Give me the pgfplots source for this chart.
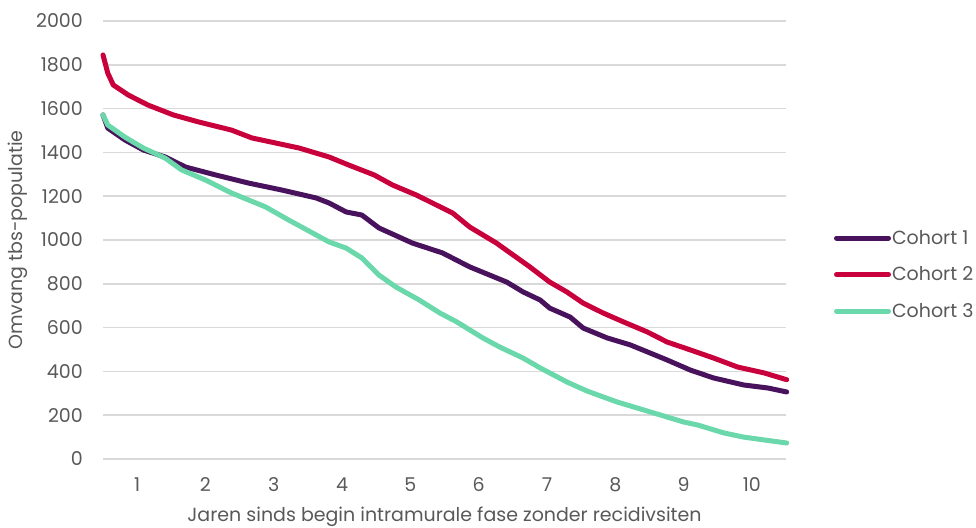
\documentclass[border=0pt]{standalone}
\usepackage{fontspec}
\setmainfont{Poppins}
\usepackage{pgfplots}
\pgfplotsset{compat=1.18}

\definecolor{cohortA}{RGB}{72,18,92}
\definecolor{cohortB}{RGB}{200,0,60}
\definecolor{cohortC}{RGB}{106,216,170}
\definecolor{gridgray}{RGB}{217,217,217}
\definecolor{textgray}{RGB}{89,89,89}

\begin{document}
\begin{tikzpicture}
\useasboundingbox (0,0) rectangle (976pt,527pt);
\begin{axis}[
  at={(103pt,68pt)}, anchor=south west,
  scale only axis, width=683pt, height=438pt,
  xmin=0.5, xmax=10.5, ymin=0, ymax=2000,
  xtick={1,...,10},
  ytick={0,200,...,2000},
  axis line style={draw=none},
  major tick style={draw=none},
  ymajorgrids,
  major grid style={line width=1.5pt, color=gridgray},
  clip=false,
  font=\fontsize{19}{23}\selectfont,
  /pgf/number format/assume math mode=true,
  /pgf/number format/1000 sep={},
  tick label style={text=textgray},
  yticklabel style={anchor=east, inner sep=0pt, xshift=-20pt},
  xticklabel style={anchor=center, inner sep=0pt, yshift=-26pt},
  xlabel={Jaren sinds begin intramurale fase zonder recidivsiten},
  ylabel={Omvang tbs-populatie},
  label style={text=textgray},
  xlabel style={at={(axis description cs:0.5,-0.1324)}, anchor=center},
  ylabel style={at={(axis description cs:-0.1245,0.5)}, anchor=center, rotate=0},
  legend style={at={(1.07,0.421)}, anchor=west, draw=none, fill=none,
    font=\fontsize{19}{23}\selectfont, text=textgray,
    row sep=19pt, inner sep=0pt,
    nodes={inner sep=1pt}},
  legend cell align=left,
  legend image code/.code={\draw[#1, line width=5pt, line cap=round] (0pt,0pt) -- (52pt,0pt);},
  every axis plot/.append style={line width=5pt, line join=round, line cap=round, no marks},
]
\addplot[color=cohortA] coordinates {
(0.50,1571) (0.57,1511) (0.82,1457) (1.09,1411) (1.41,1379) (1.71,1333)
(2.15,1297) (2.63,1260) (3.12,1228) (3.62,1192) (3.81,1169) (4.06,1128)
(4.29,1114) (4.54,1055) (5.03,986) (5.47,941) (5.87,877) (6.16,840)
(6.41,808) (6.65,763) (6.90,726) (7.04,689) (7.34,648) (7.53,598)
(7.88,553) (8.22,521) (8.51,484) (8.76,452) (9.10,406) (9.44,370)
(9.88,338) (10.24,324) (10.51,306)
};
\addlegendentry{Cohort 1}
\addplot[color=cohortB] coordinates {
(0.50,1845) (0.57,1762) (0.65,1708) (0.87,1662) (1.16,1616) (1.53,1571)
(1.90,1539) (2.38,1502) (2.68,1466) (3.37,1420) (3.81,1379) (4.10,1342)
(4.47,1297) (4.74,1251) (5.09,1205) (5.38,1160) (5.62,1123) (5.87,1059)
(6.26,986) (6.75,877) (7.04,808) (7.29,763) (7.53,712) (7.82,667)
(8.12,626) (8.47,580) (8.76,534) (9.10,498) (9.44,461) (9.79,420)
(10.18,393) (10.51,362)
};
\addlegendentry{Cohort 2}
\addplot[color=cohortC] coordinates {
(0.50,1571) (0.57,1525) (0.82,1470) (1.09,1420) (1.41,1374) (1.65,1320)
(2.00,1274) (2.38,1215) (2.88,1151) (3.22,1091) (3.81,991) (4.06,963)
(4.29,918) (4.54,840) (4.79,785) (5.13,726) (5.43,667) (5.68,626)
(6.06,553) (6.31,511) (6.65,461) (6.90,416) (7.04,393) (7.29,352)
(7.59,310) (8.03,260) (8.32,233) (8.66,201) (9.00,169) (9.21,155)
(9.59,119) (9.88,100) (10.18,87) (10.51,73)
};
\addlegendentry{Cohort 3}
\end{axis}
\end{tikzpicture}
\end{document}
